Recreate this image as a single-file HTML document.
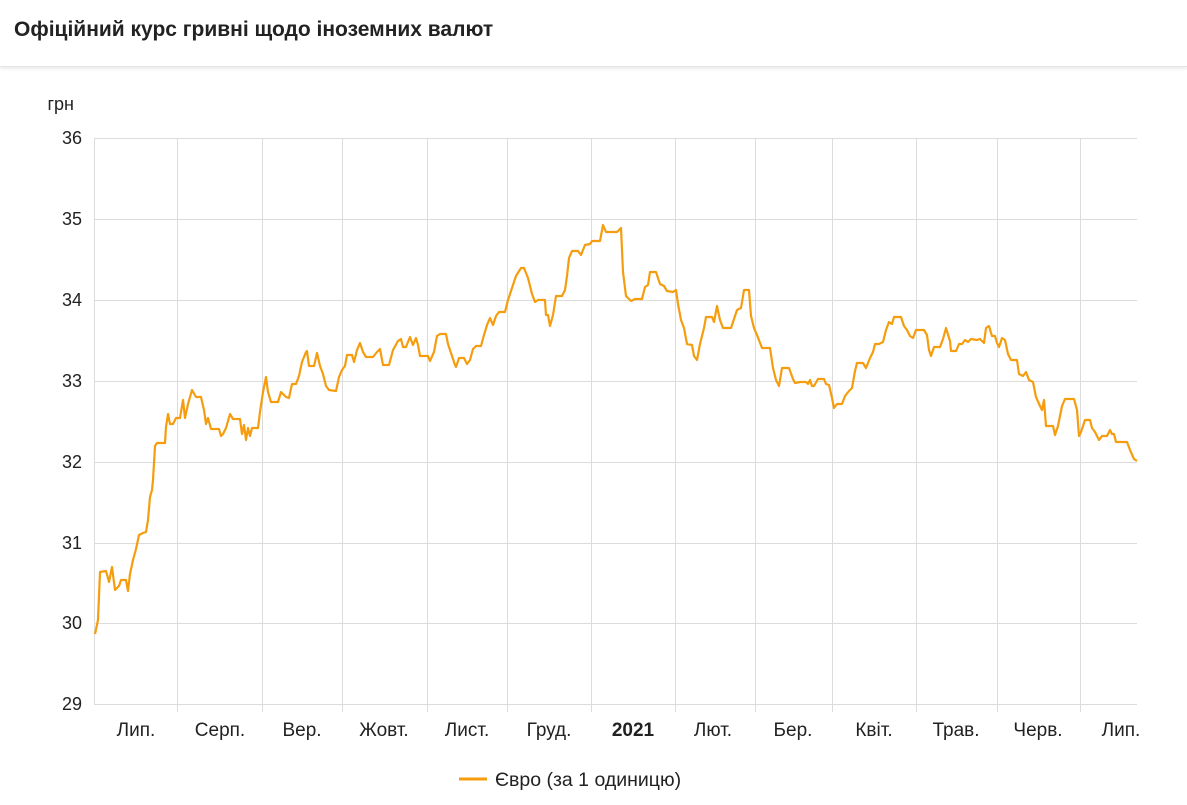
<!DOCTYPE html>
<html><head><meta charset="utf-8"><style>
body{margin:0;width:1187px;height:805px;background:#fff;overflow:hidden;font-family:"Liberation Sans",sans-serif;}
.hdr{position:absolute;left:0;top:0;width:1187px;height:66px;border-bottom:1px solid #e4e4e4;box-shadow:0 2px 3px rgba(0,0,0,0.08);}
.hdr span{position:absolute;left:14px;top:18px;font-size:21px;font-weight:bold;color:#222;}
svg{position:absolute;left:0;top:0;}
</style></head><body>
<div class="hdr"><span>Офіційний курс гривні щодо іноземних валют</span></div>
<svg width="1187" height="805" font-family="Liberation Sans, sans-serif">
<g stroke="#dcdcdc" stroke-width="1">
<line x1="94" y1="138.5" x2="1137" y2="138.5"/><line x1="94" y1="219.5" x2="1137" y2="219.5"/>
<line x1="94" y1="300.5" x2="1137" y2="300.5"/><line x1="94" y1="381.5" x2="1137" y2="381.5"/>
<line x1="94" y1="462.5" x2="1137" y2="462.5"/><line x1="94" y1="543.5" x2="1137" y2="543.5"/>
<line x1="94" y1="623.5" x2="1137" y2="623.5"/><line x1="94" y1="704.5" x2="1137" y2="704.5"/>
<line x1="94.5" y1="138" x2="94.5" y2="704"/>
<line x1="177.5" y1="138" x2="177.5" y2="712"/><line x1="262.5" y1="138" x2="262.5" y2="712"/>
<line x1="342.5" y1="138" x2="342.5" y2="712"/><line x1="427.5" y1="138" x2="427.5" y2="712"/>
<line x1="507.5" y1="138" x2="507.5" y2="712"/><line x1="591.5" y1="138" x2="591.5" y2="712"/>
<line x1="675.5" y1="138" x2="675.5" y2="712"/><line x1="755.5" y1="138" x2="755.5" y2="712"/>
<line x1="832.5" y1="138" x2="832.5" y2="712"/><line x1="916.5" y1="138" x2="916.5" y2="712"/>
<line x1="997.5" y1="138" x2="997.5" y2="712"/><line x1="1080.5" y1="138" x2="1080.5" y2="712"/>
</g>
<g font-size="18" fill="#222" text-anchor="end">
<text x="74" y="110">грн</text>
<text x="82" y="144">36</text><text x="82" y="225">35</text><text x="82" y="306">34</text>
<text x="82" y="387">33</text><text x="82" y="468">32</text><text x="82" y="549">31</text>
<text x="82" y="629">30</text><text x="82" y="710">29</text>
</g>
<g font-size="19" fill="#222" text-anchor="middle">
<text x="136" y="736">Лип.</text><text x="220" y="736">Серп.</text><text x="302" y="736">Вер.</text>
<text x="384" y="736">Жовт.</text><text x="467" y="736">Лист.</text><text x="549" y="736">Груд.</text>
<text x="633" y="736" font-weight="bold">2021</text><text x="713" y="736">Лют.</text>
<text x="793" y="736">Бер.</text><text x="874" y="736">Квіт.</text><text x="956" y="736">Трав.</text>
<text x="1038" y="736">Черв.</text><text x="1121" y="736">Лип.</text>
</g>
<polyline fill="none" stroke="#f59d0e" stroke-width="2.2" stroke-linejoin="round" points="95,634 98,620 100,572 106,571 109,582 112,567 115,590 119,586 121,580 126,580 128,591 130,574 133,560 136,549 139,535 143,533 146,532 148,520 150,497 152,490 153,480 155,446 157,443 165,443 166,427 168,414 170,424 173,424 176,418 180,418 183,400 185,418 188,404 192,390 196,397 201,397 204,410 206,424 208,418 211,429 215,429 219,429 221,436 223,434 226,428 230,414 233,419 240,419 242,434 244,425 246,440 248,428 250,436 252,428 258,428 260,412 263,392 266,377 268,392 271,402 278,402 281,392 286,397 289,398 292,384 296,384 299,376 302,362 306,352 307,351 309,366 314,366 317,353 320,366 323,374 326,386 329,390 336,391 339,377 342,370 345,366 347,355 352,355 354,362 357,350 360,343 363,352 366,357 373,357 377,352 380,349 383,365 389,365 393,350 398,341 401,339 403,347 406,347 410,337 413,345 416,338 418,345 420,356 428,356 430,361 434,352 437,336 440,334 446,334 448,344 451,353 455,365 456,367 459,358 464,358 467,364 470,360 473,349 476,346 481,346 484,335 487,325 490,318 493,325 496,316 499,312 505,312 508,300 512,288 516,276 521,268 524,268 528,278 532,294 535,302 538,300 545,300 546,315 548,315 550,326 553,315 556,296 562,296 565,290 567,276 569,258 572,251 578,251 581,255 585,245 590,244 592,241 600,241 603,225 606,232 617,232 621,228 623,272 626,296 631,301 635,299 642,299 645,287 648,285 650,272 656,272 660,284 664,286 667,291 673,292 676,290 678,304 681,320 684,328 687,344 692,345 694,356 697,360 700,344 704,328 706,317 712,317 714,322 717,306 720,320 723,328 731,328 733,322 737,310 741,308 744,290 749,290 751,316 754,328 757,335 762,348 770,348 773,368 776,380 779,386 782,368 789,368 793,379 795,383 800,382 806,382 808,384 810,380 812,386 814,386 818,379 824,379 826,384 829,385 832,398 834,408 837,404 842,404 845,396 849,391 852,388 855,371 857,363 863,363 866,368 870,358 873,352 875,344 879,344 883,342 886,330 889,322 892,324 894,317 901,317 904,326 907,330 910,336 913,338 916,330 924,330 927,335 929,350 931,356 934,347 940,347 943,339 946,328 950,341 951,351 956,351 959,344 962,344 965,340 968,342 971,339 977,340 980,339 984,343 986,328 989,326 992,336 995,336 997,343 999,347 1002,338 1005,340 1008,354 1011,360 1017,360 1019,374 1023,376 1026,372 1029,380 1033,382 1036,397 1040,406 1042,410 1044,400 1046,426 1053,426 1055,435 1058,426 1062,406 1065,399 1074,399 1077,410 1079,436 1081,432 1085,420 1090,420 1092,428 1095,432 1099,440 1102,436 1107,436 1110,430 1112,434 1114,434 1116,442 1127,442 1130,450 1134,459 1137,461"/>
<line x1="459" y1="779" x2="487" y2="779" stroke="#f59d0e" stroke-width="3"/>
<text x="495" y="786" font-size="19.5" fill="#222">Євро (за 1 одиницю)</text>
</svg>
</body></html>
